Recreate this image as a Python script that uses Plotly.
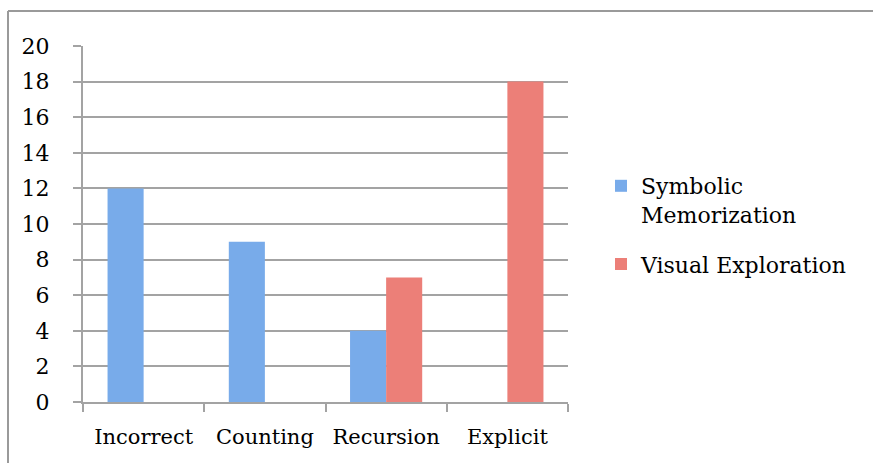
import plotly.graph_objects as go

categories = ["Incorrect", "Counting", "Recursion", "Explicit"]
symbolic = [12, 9, 4, None]
visual = [None, None, 7, 18]
series_names = ["Symbolic<br>Memorization", "Visual Exploration"]
y_ticks = list(range(0, 21, 2))

FONT = "DejaVu Serif"
GRID = "#A3A3A3"

fig = go.Figure()
fig.add_trace(go.Bar(x=categories, y=symbolic, name=series_names[0], legendgroup="a",
                     marker=dict(color="#78ABEA", line=dict(width=0))))
fig.add_trace(go.Bar(x=categories, y=visual, name=series_names[1], legendgroup="b",
                     marker=dict(color="#EC7F78", line=dict(width=0))))

W, H = 873, 463
L, T = 83, 46
R = W - 568
B = H - 402
pw, ph = W - L - R, H - T - B

def px2x(px):
    return (px - L) / pw

def py2y(py):
    return (H - B - py) / ph

fig.update_layout(
    width=W, height=H,
    margin=dict(l=L, r=R, t=T, b=B, autoexpand=False),
    paper_bgcolor="white", plot_bgcolor="white",
    barmode="group", bargap=0.405, bargroupgap=0,
    font=dict(family=FONT, size=22, color="black"),
    showlegend=True,
    legend=dict(x=px2x(601), y=py2y(165), xanchor="left", yanchor="top",
                valign="top", font=dict(family=FONT, size=22, color="black"),
                tracegroupgap=18, bgcolor="rgba(0,0,0,0)"),
    shapes=[
        dict(type="line", xref="paper", yref="paper",
             x0=px2x(8), x1=px2x(900), y0=py2y(11), y1=py2y(11),
             line=dict(color="#9A9A9A", width=2), layer="below"),
        dict(type="line", xref="paper", yref="paper",
             x0=px2x(8), x1=px2x(8), y0=py2y(11), y1=py2y(490),
             line=dict(color="#9A9A9A", width=2), layer="below"),
    ],
)
fig.update_xaxes(type="category", tickson="boundaries", ticks="outside", ticklen=8,
                 tickwidth=2, tickcolor=GRID, showline=True, linecolor=GRID, linewidth=2,
                 showgrid=False, tickangle=0, automargin=False,
                 tickfont=dict(family=FONT, size=21, color="black"),
                 ticklabelstandoff=15)
fig.update_yaxes(range=[0, 20], tickvals=y_ticks, ticks="outside", ticklen=8,
                 tickwidth=2, tickcolor=GRID, showline=True, linecolor=GRID, linewidth=2,
                 showgrid=True, gridcolor=GRID, gridwidth=2, zeroline=False,
                 automargin=False,
                 tickfont=dict(family=FONT, size=22, color="black"),
                 ticklabelstandoff=19)

fig.write_html(
    "out.html",
    config={"displayModeBar": False},
    post_script="document.body.style.margin='0';document.body.style.overflow='hidden';",
)
